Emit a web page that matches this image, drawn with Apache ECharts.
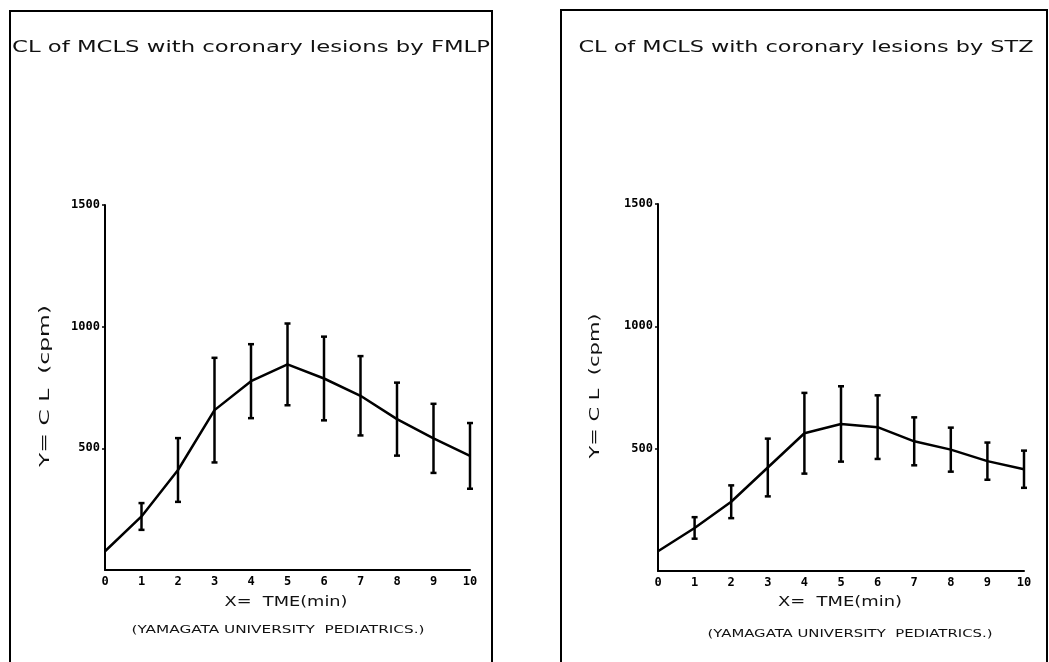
<!DOCTYPE html>
<html>
<head>
<meta charset="utf-8">
<script src="https://cdn.jsdelivr.net/npm/echarts@6/dist/echarts.min.js"></script>
<style>
  html, body { margin: 0; padding: 0; background: #fff; }
  #main { width: 1049px; height: 662px; }
</style>
</head>
<body>
<div id="main"></div>
<script>
var minutes = [0, 1, 2, 3, 4, 5, 6, 7, 8, 9, 10];
// FMLP panel (left)
var fmlpMean = [77, 220, 411, 657, 776, 845, 787, 716, 620, 541, 469];
var fmlpErr = [0, 55, 131, 215, 152, 168, 172, 163, 150, 142, 135];
// STZ panel (right)
var stzMean = [81, 176, 283, 423, 563, 601, 588, 530, 496, 449, 416];
var stzErr = [0, 44, 67, 118, 165, 154, 130, 98, 90, 76, 76];

var titles = ['CL of MCLS with coronary lesions by FMLP', 'CL of MCLS with coronary lesions by STZ'];
var yName = 'Y= C L  (cpm)';
var xName = 'X=  TME(min)';
var footer = '(YAMAGATA UNIVERSITY  PEDIATRICS.)';

var chart = echarts.init(document.getElementById('main'));

// plotter lettering is wide -> stretch each text to its measured width
var ctx = document.createElement('canvas').getContext('2d');
function label(text, cx, cy, size, width, rot) {
  var font = size + 'px "DejaVu Sans"';
  ctx.font = font;
  var s = width / ctx.measureText(text).width;
  return {
    type: 'text', x: cx, y: cy, rotation: rot || 0, scaleX: s, scaleY: 1,
    style: { x: 0, y: 0, text: text, font: font, fill: '#111', textAlign: 'center', textVerticalAlign: 'middle' }
  };
}

function pairs(ys) { return minutes.map(function (m, i) { return [m, ys[i]]; }); }
function bars(ys, es) {
  var out = [];
  minutes.forEach(function (m, i) { if (es[i] > 0) out.push([m, ys[i] - es[i], ys[i] + es[i]]); });
  return out;
}

function errItem(params, api) {
  var top = api.coord([api.value(0), api.value(2)]);
  var bot = api.coord([api.value(0), api.value(1)]);
  var w = 3;
  var st = { stroke: '#000', lineWidth: 2.5 };
  return {
    type: 'group',
    children: [
      { type: 'line', shape: { x1: top[0], y1: top[1], x2: bot[0], y2: bot[1] }, style: st },
      { type: 'line', shape: { x1: top[0] - w, y1: top[1], x2: top[0] + w, y2: top[1] }, style: st },
      { type: 'line', shape: { x1: bot[0] - w, y1: bot[1], x2: bot[0] + w, y2: bot[1] }, style: st }
    ]
  };
}

var tickFont = { fontFamily: '"DejaVu Sans Mono"', fontWeight: 'bold', fontSize: 12, color: '#000' };

function xAx(idx) {
  return {
    type: 'value', gridIndex: idx, min: 0, max: 10, interval: 1,
    axisLine: { lineStyle: { color: '#000', width: 2 } },
    axisTick: { show: false },
    splitLine: { show: false },
    axisLabel: Object.assign({ margin: 6 }, tickFont)
  };
}
function yAx(idx) {
  return {
    type: 'value', gridIndex: idx, min: 0, max: 1500, interval: 500,
    axisLine: { show: true, lineStyle: { color: '#000', width: 2 } },
    axisTick: { show: true, length: 3, lineStyle: { color: '#000', width: 1.5 } },
    splitLine: { show: false },
    axisLabel: Object.assign({ margin: 5, showMinLabel: false, formatter: function (v) { return String(v); } }, tickFont)
  };
}

chart.setOption({
  backgroundColor: '#fff',
  animation: false,
  grid: [
    { left: 105, top: 205, width: 365, height: 365 },
    { left: 658, top: 204, width: 366, height: 367 }
  ],
  xAxis: [xAx(0), xAx(1)],
  yAxis: [yAx(0), yAx(1)],
  series: [
    { type: 'line', xAxisIndex: 0, yAxisIndex: 0, data: pairs(fmlpMean), showSymbol: false,
      lineStyle: { color: '#000', width: 2.5 }, z: 3 },
    { type: 'custom', xAxisIndex: 0, yAxisIndex: 0, data: bars(fmlpMean, fmlpErr), renderItem: errItem, z: 4 },
    { type: 'line', xAxisIndex: 1, yAxisIndex: 1, data: pairs(stzMean), showSymbol: false,
      lineStyle: { color: '#000', width: 2.5 }, z: 3 },
    { type: 'custom', xAxisIndex: 1, yAxisIndex: 1, data: bars(stzMean, stzErr), renderItem: errItem, z: 4 }
  ],
  graphic: [
    { type: 'polyline', shape: { points: [[10, 670], [10, 11], [492, 11], [492, 670]] },
      style: { stroke: '#000', lineWidth: 2, fill: null } },
    { type: 'polyline', shape: { points: [[561, 670], [561, 10], [1047, 10], [1047, 670]] },
      style: { stroke: '#000', lineWidth: 2, fill: null } },
    label(titles[0], 251, 48, 15, 478),
    label(titles[1], 806, 48, 15, 455),
    label(yName, 45, 386, 14, 162, Math.PI / 2),
    label(yName, 595, 386, 14, 145, Math.PI / 2),
    label(xName, 286, 602, 14, 123),
    label(xName, 840, 602, 14, 124),
    label(footer, 278, 630, 11, 293),
    label(footer, 850, 634, 11, 285)
  ]
});
</script>
</body>
</html>
